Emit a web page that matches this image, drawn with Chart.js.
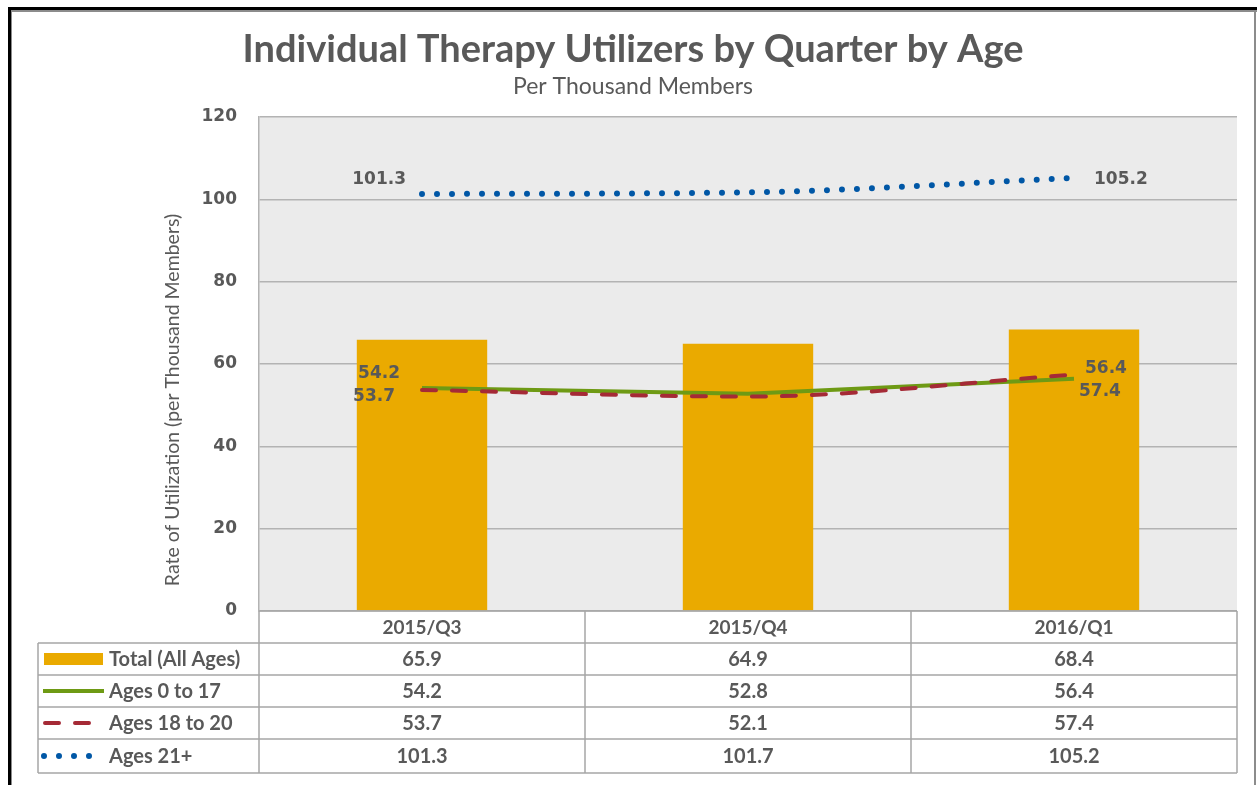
<!DOCTYPE html>
<html>
<head>
<meta charset="utf-8">
<title>Individual Therapy Utilizers by Quarter by Age</title>
<script src="https://cdn.jsdelivr.net/npm/chart.js@4/dist/chart.umd.min.js"></script>
<style>
  body { margin: 0; background: #fff; }
  #wrap { width: 1257px; height: 785px; position: relative; }
</style>
</head>
<body>
<div id="wrap"><canvas id="chart" width="1257" height="785"></canvas></div>
<script>
// chart data
const quarters = ['2015/Q3', '2015/Q4', '2016/Q1'];
const totalAll = [65.9, 64.9, 68.4];
const ages0to17 = [54.2, 52.8, 56.4];
const ages18to20 = [53.7, 52.1, 57.4];
const ages21plus = [101.3, 101.7, 105.2];
const seriesNames = ['Total (All Ages)', 'Ages 0 to 17', 'Ages 18 to 20', 'Ages 21+'];

const GRAY_TEXT = '#595959';
const GOLD = '#eaaa00';
const GREEN = '#6e9a14';
const RED = '#a52a36';
const BLUE = '#0057a6';

// background, frame and plot fill
const backgroundPlugin = {
  id: 'backgroundPlugin',
  beforeDraw(chart) {
    const { ctx, chartArea } = chart;
    ctx.save();
    ctx.fillStyle = '#fff';
    ctx.fillRect(0, 0, chart.width, chart.height);
    // outer frame
    ctx.fillStyle = '#000';
    ctx.fillRect(8, 7, chart.width - 8, 3);
    ctx.fillRect(8, 7, 3, chart.height - 7);
    ctx.fillStyle = '#8c8c8c';
    ctx.fillRect(11, 10, chart.width - 11, 2);
    ctx.fillRect(11, 10, 1, chart.height - 10);
    ctx.fillRect(1254, 10, 2, chart.height - 10);
    // plot area
    ctx.fillStyle = '#ebebeb';
    ctx.fillRect(chartArea.left, chartArea.top, chartArea.right - chartArea.left, chartArea.bottom - chartArea.top);
    ctx.restore();
  }
};

// title, axis title, point labels and data table
const annotatePlugin = {
  id: 'annotatePlugin',
  afterDraw(chart) {
    const { ctx, chartArea } = chart;
    const xScale = chart.scales.x;
    ctx.save();
    ctx.fillStyle = GRAY_TEXT;
    ctx.textAlign = 'center';
    ctx.textBaseline = 'middle';

    ctx.font = 'bold 38px Lato';
    ctx.fillText('Individual Therapy Utilizers by Quarter by Age', 633, 50);
    ctx.font = '23px Lato';
    ctx.fillText('Per Thousand Members', 633, 87);

    // y axis title
    ctx.save();
    ctx.translate(173, 400);
    ctx.rotate(-Math.PI / 2);
    ctx.font = '19.5px Lato';
    ctx.fillText('Rate of Utilization (per Thousand Members)', 0, 0);
    ctx.restore();

    // point labels on first and last points
    ctx.font = 'bold 17px "DejaVu Sans"';
    const pt = (ds, i) => chart.getDatasetMeta(ds).data[i];
    const last = quarters.length - 1;
    const labels = [
      [3, 0, 'right', -16, -14],
      [3, last, 'left', 20, 2],
      [1, 0, 'right', -22, -14],
      [2, 0, 'right', -27, 7],
      [1, last, 'left', 11, -10],
      [2, last, 'left', 5, 17]
    ];
    labels.forEach(([ds, i, align, dx, dy]) => {
      const p = pt(ds, i);
      const value = chart.data.datasets[ds].data[i];
      ctx.textAlign = align;
      ctx.fillText(value.toFixed(1), p.x + dx, p.y + dy);
    });

    // data table
    const rowH = 32;
    const top = chartArea.bottom;
    const left = 38;
    const right = chartArea.right;
    const colEdges = [chartArea.left];
    quarters.forEach((q, i) => {
      colEdges.push(i < quarters.length - 1
        ? (xScale.getPixelForValue(i) + xScale.getPixelForValue(i + 1)) / 2
        : right);
    });
    const rowY = [top, top + rowH, top + rowH * 2, top + rowH * 3, top + rowH * 4, top + rowH * 5 + 2];

    ctx.strokeStyle = '#a6a6a6';
    ctx.lineWidth = 1.5;
    ctx.beginPath();
    ctx.moveTo(chartArea.left, top); ctx.lineTo(right, top);
    for (let r = 1; r < rowY.length; r++) {
      ctx.moveTo(left, rowY[r]); ctx.lineTo(right, rowY[r]);
    }
    colEdges.forEach(x => { ctx.moveTo(x, top); ctx.lineTo(x, rowY[rowY.length - 1]); });
    ctx.moveTo(left, rowY[1]); ctx.lineTo(left, rowY[rowY.length - 1]);
    ctx.stroke();

    ctx.fillStyle = GRAY_TEXT;
    ctx.textAlign = 'center';
    quarters.forEach((q, i) => {
      const cx = xScale.getPixelForValue(i);
      ctx.font = 'bold 19px Lato';
      ctx.fillText(q, cx, (rowY[0] + rowY[1]) / 2 + 1);
      ctx.font = 'bold 20px Lato';
      chart.data.datasets.forEach((ds, d) => {
        ctx.fillText(ds.data[i].toFixed(1), cx, (rowY[d + 1] + rowY[d + 2]) / 2 + 1);
      });
    });

    // legend keys
    ctx.textAlign = 'left';
    ctx.font = 'bold 20px Lato';
    chart.data.datasets.forEach((ds, d) => {
      const cy = (rowY[d + 1] + rowY[d + 2]) / 2;
      ctx.fillStyle = GRAY_TEXT;
      ctx.fillText(ds.label, 109, cy + 1);
      ctx.save();
      if (d === 0) {
        ctx.fillStyle = GOLD;
        ctx.fillRect(44, cy - 6, 59, 12);
      } else {
        ctx.strokeStyle = ds.borderColor;
        ctx.lineWidth = ds.borderWidth;
        ctx.lineCap = ds.borderCapStyle || 'butt';
        ctx.setLineDash(ds.borderDash || []);
        ctx.beginPath();
        if (d === 1) { ctx.moveTo(43, cy); ctx.lineTo(104, cy); }
        if (d === 2) { ctx.moveTo(45, cy); ctx.lineTo(90, cy); }
        if (d === 3) { ctx.moveTo(44, cy); ctx.lineTo(90, cy); }
        ctx.stroke();
      }
      ctx.restore();
    });
    ctx.restore();
  }
};

new Chart(document.getElementById('chart'), {
  type: 'bar',
  data: {
    labels: quarters,
    datasets: [
      {
        type: 'bar',
        label: seriesNames[0],
        data: totalAll,
        backgroundColor: GOLD,
        barPercentage: 0.4,
        categoryPercentage: 1,
        order: 10
      },
      {
        type: 'line',
        label: seriesNames[1],
        data: ages0to17,
        borderColor: GREEN,
        borderWidth: 4,
        pointRadius: 0,
        tension: 0,
        order: 2
      },
      {
        type: 'line',
        label: seriesNames[2],
        data: ages18to20,
        borderColor: RED,
        borderWidth: 4,
        borderDash: [14, 16],
        borderCapStyle: 'round',
        pointRadius: 0,
        cubicInterpolationMode: 'monotone',
        order: 1
      },
      {
        type: 'line',
        label: seriesNames[3],
        data: ages21plus,
        borderColor: BLUE,
        borderWidth: 6,
        borderDash: [0, 15],
        borderCapStyle: 'round',
        pointRadius: 0,
        cubicInterpolationMode: 'monotone',
        order: 3
      }
    ]
  },
  plugins: [backgroundPlugin, annotatePlugin],
  options: {
    responsive: false,
    animation: false,
    layout: { padding: { top: 117, bottom: 174, right: 20, left: 0 } },
    plugins: {
      legend: { display: false },
      tooltip: { enabled: false },
      title: { display: false }
    },
    scales: {
      x: { display: false, offset: true },
      y: {
        min: 0,
        max: 120,
        afterFit: scale => { scale.width = 259; },
        ticks: {
          stepSize: 20,
          padding: 22,
          color: GRAY_TEXT,
          font: { family: 'DejaVu Sans', weight: 'bold', size: 17 }
        },
        grid: { color: '#b3b3b3', lineWidth: 1.5, drawTicks: false },
        border: { color: '#b3b3b3', width: 1.5 }
      }
    }
  }
});
</script>
</body>
</html>
